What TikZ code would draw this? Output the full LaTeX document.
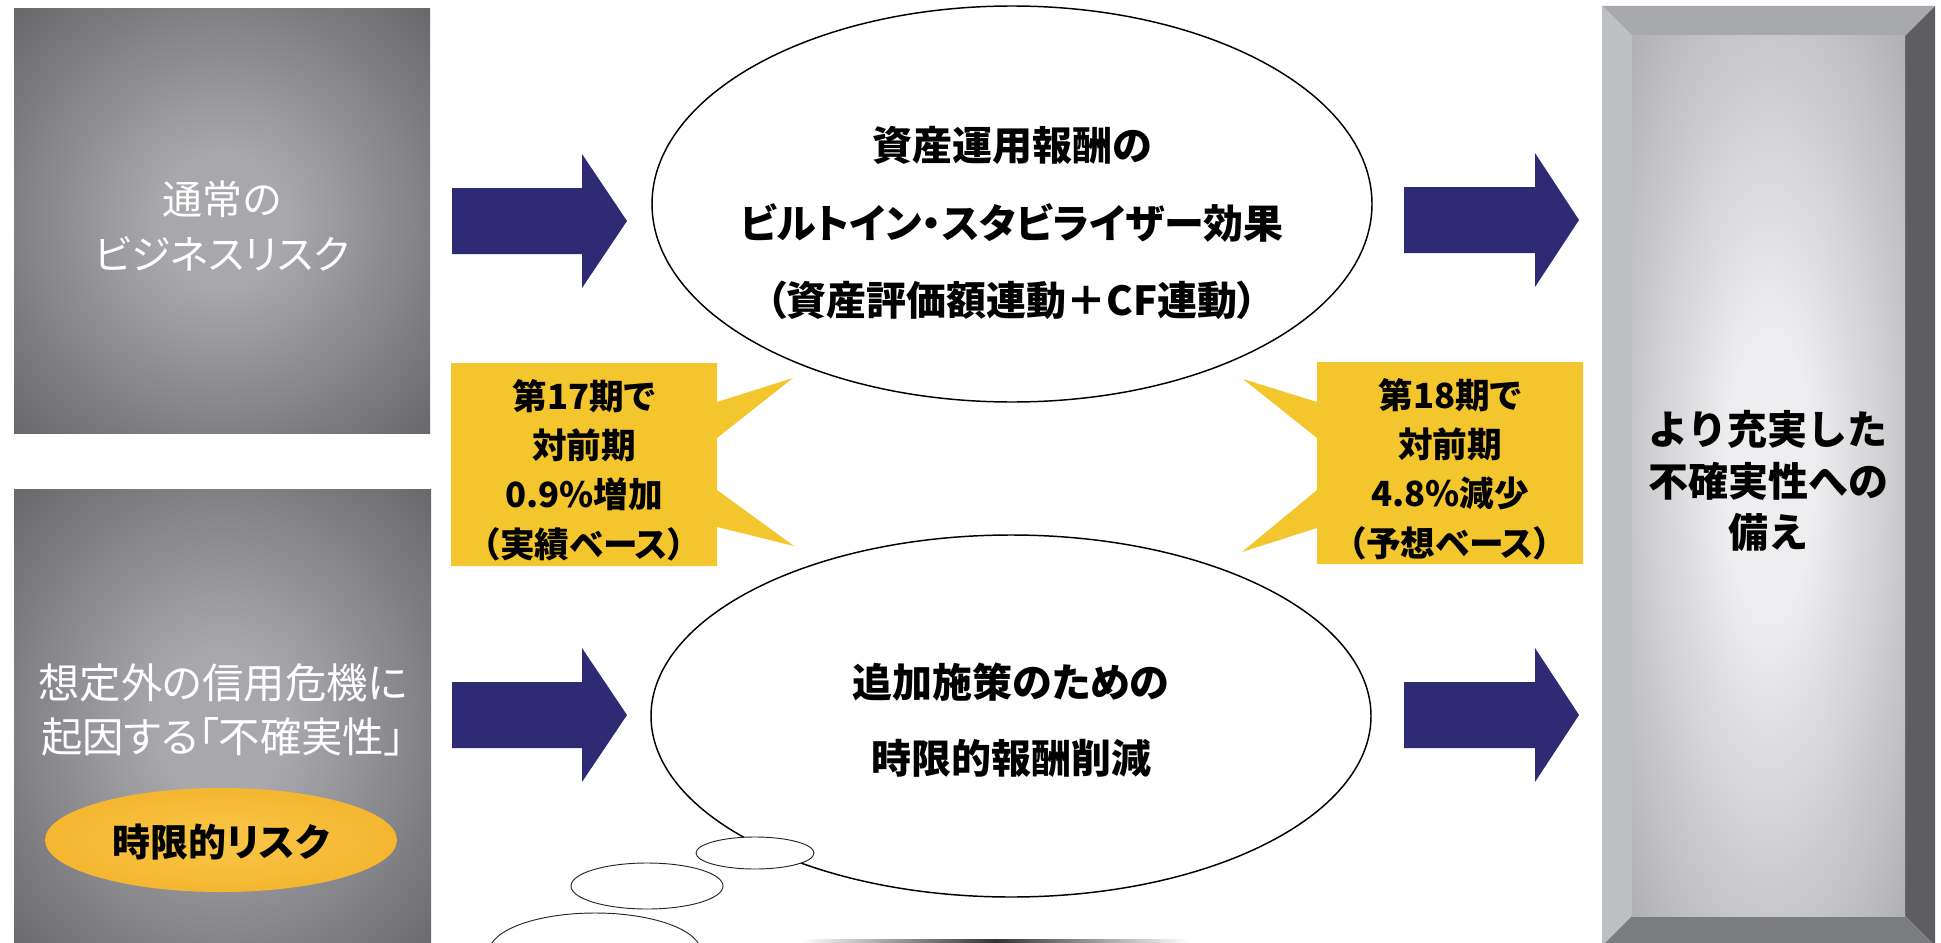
\documentclass[tikz,border=0pt]{standalone}
\usepackage{fontspec}
\newfontfamily\jpfont{Noto Sans CJK JP}[CharacterWidth=AlternateProportional]
\newfontfamily\jpwide{Noto Sans CJK JP}

\definecolor{arrownavy}{RGB}{46,42,116}
\definecolor{calloutyellow}{RGB}{244,198,46}
\definecolor{riskedge}{RGB}{98,98,101}
\definecolor{riskcentre}{RGB}{168,168,172}
\definecolor{reserveedge}{RGB}{152,153,157}
\definecolor{reservecentre}{RGB}{238,238,240}
\definecolor{bevtop}{RGB}{168,169,173}
\definecolor{bevleft}{RGB}{190,191,195}
\definecolor{bevright}{RGB}{94,94,97}
\definecolor{bevbottom}{RGB}{123,124,128}
\definecolor{limitorange}{RGB}{245,182,48}
\definecolor{limitlight}{RGB}{248,198,72}

\pgfdeclareradialshading{riskglow}{\pgfpoint{0bp}{0bp}}{color(0bp)=(riskcentre); color(8bp)=(riskcentre); color(38bp)=(riskedge); color(50bp)=(riskedge)}
\pgfdeclareradialshading{reserveglow}{\pgfpoint{0bp}{0bp}}{color(0bp)=(reservecentre); color(8bp)=(reservecentre); color(46bp)=(reserveedge); color(50bp)=(reserveedge)}

\begin{document}
\begin{tikzpicture}[x=0.75pt,y=0.75pt,yscale=-1,xscale=1,
  riskbox/.style={shading=riskglow},
  navyarrow/.style={fill=arrownavy},
  bubble/.style={draw=black,fill=white,line width=1.1pt},
  puff/.style={draw=black!85,fill=white,line width=0.7pt},
  callout/.style={fill=calloutyellow},
  risktext/.style={text=white,inner sep=0pt,align=center},
  boldtext/.style={text=black,inner sep=0pt,align=center}]
\useasboundingbox (0,0) rectangle (1941,942);
\clip (0,0) rectangle (1941,942);

%Shape: Rectangle [normal risk]
\shade [riskbox] (14,9) rectangle (430,433) ;
%Shape: Rectangle [credit risk]
\shade [riskbox] (14,489) rectangle (431,960) ;
%Shape: Ellipse [time limited]
\shade [inner color=limitlight,outer color=limitorange] (221,840) ellipse (176 and 52) ;

%Shape: Right Arrow
\fill [navyarrow] (452,188) -- ++(130,0) -- ++(0,-34) -- ++(45,67) -- ++(-45,67) -- ++(0,-34) -- ++(-130,0) -- cycle ;
%Shape: Right Arrow
\fill [navyarrow] (452,682) -- ++(130,0) -- ++(0,-34) -- ++(45,67) -- ++(-45,67) -- ++(0,-34) -- ++(-130,0) -- cycle ;
%Shape: Right Arrow
\fill [navyarrow] (1404,187) -- ++(131,0) -- ++(0,-34) -- ++(44,67) -- ++(-44,67) -- ++(0,-34) -- ++(-131,0) -- cycle ;
%Shape: Right Arrow
\fill [navyarrow] (1404,682) -- ++(131,0) -- ++(0,-34) -- ++(44,67) -- ++(-44,67) -- ++(0,-34) -- ++(-131,0) -- cycle ;

%Shape: Ellipse [stabilizer]
\draw [bubble] (1012,204) ellipse (360 and 198) ;
%Shape: Ellipse [pay cut]
\draw [bubble] (1011,716) ellipse (360 and 181) ;
%Shape: Ellipse [thought puffs]
\draw [puff] (595,952) ellipse (106 and 39) ;
\draw [puff] (647,886) ellipse (76 and 23) ;
\draw [puff] (755,853) ellipse (59 and 16) ;
%Shape: shadow line
\shade [left color=white,right color=white,middle color=black!80] (800,939) rectangle (1190,946) ;

%Shape: Callout [17th term]
\fill [callout] (451,363) -- (717,363) -- (717,402) -- (793,378) -- (717,438) -- (717,490) -- (794,546) -- (717,527) -- (717,566) -- (451,566) -- cycle ;
%Shape: Callout [18th term]
\fill [callout] (1583,362) -- (1317,362) -- (1317,402) -- (1243,379) -- (1317,438) -- (1317,490) -- (1242,552) -- (1317,528) -- (1317,564) -- (1583,564) -- cycle ;

%Shape: Bevel [reserve]
\fill [bevtop] (1602,6) -- (1935,6) -- (1905,36) -- (1632,36) -- cycle ;
\fill [bevleft] (1602,6) -- (1632,36) -- (1632,916) -- (1602,946) -- cycle ;
\fill [bevright] (1935,6) -- (1935,946) -- (1905,916) -- (1905,36) -- cycle ;
\fill [bevbottom] (1602,946) -- (1632,916) -- (1905,916) -- (1935,946) -- cycle ;
\shade [shading=reserveglow] (1632,36) rectangle (1905,916) ;

% Text Node
\node (normalrisk) at (222,226) [risktext,font={\jpfont\fontsize{30pt}{41pt}\selectfont}] {通常の\\ビジネスリスク};
% Text Node
\node (creditrisk) at (223,710) [risktext,font={\jpfont\fontsize{31pt}{40pt}\selectfont}] {想定外の信用危機に\\起因する「不確実性」};
% Text Node
\node (timerisk) at (221,842) [boldtext,font={\jpfont\bfseries\fontsize{28.5pt}{34pt}\selectfont}] {時限的リスク};
% Text Node
\node (stabilizer) at (1012,223) [boldtext,font={\jpfont\bfseries\fontsize{30pt}{58pt}\selectfont}] {資産運用報酬の\\ビルトイン・スタビライザー効果\\（資産評価額連動＋CF連動）};
% Text Node
\node (paycut) at (1011,720) [boldtext,font={\jpfont\bfseries\fontsize{30pt}{57pt}\selectfont}] {追加施策のための\\時限的報酬削減};
% Text Node
\node (term17) at (584,470) [boldtext,font={\jpfont\bfseries\fontsize{26pt}{37pt}\selectfont}] {第17期で\\対前期\\0.9\%増加\\（実績ベース）};
% Text Node
\node (term18) at (1450,469) [boldtext,font={\jpfont\bfseries\fontsize{26pt}{37pt}\selectfont}] {第18期で\\対前期\\4.8\%減少\\（予想ベース）};
% Text Node
\node (reserve) at (1768,481) [boldtext,font={\jpwide\bfseries\fontsize{30pt}{38.5pt}\selectfont}] {より充実した\\不確実性への\\備え};

\end{tikzpicture}
\end{document}
